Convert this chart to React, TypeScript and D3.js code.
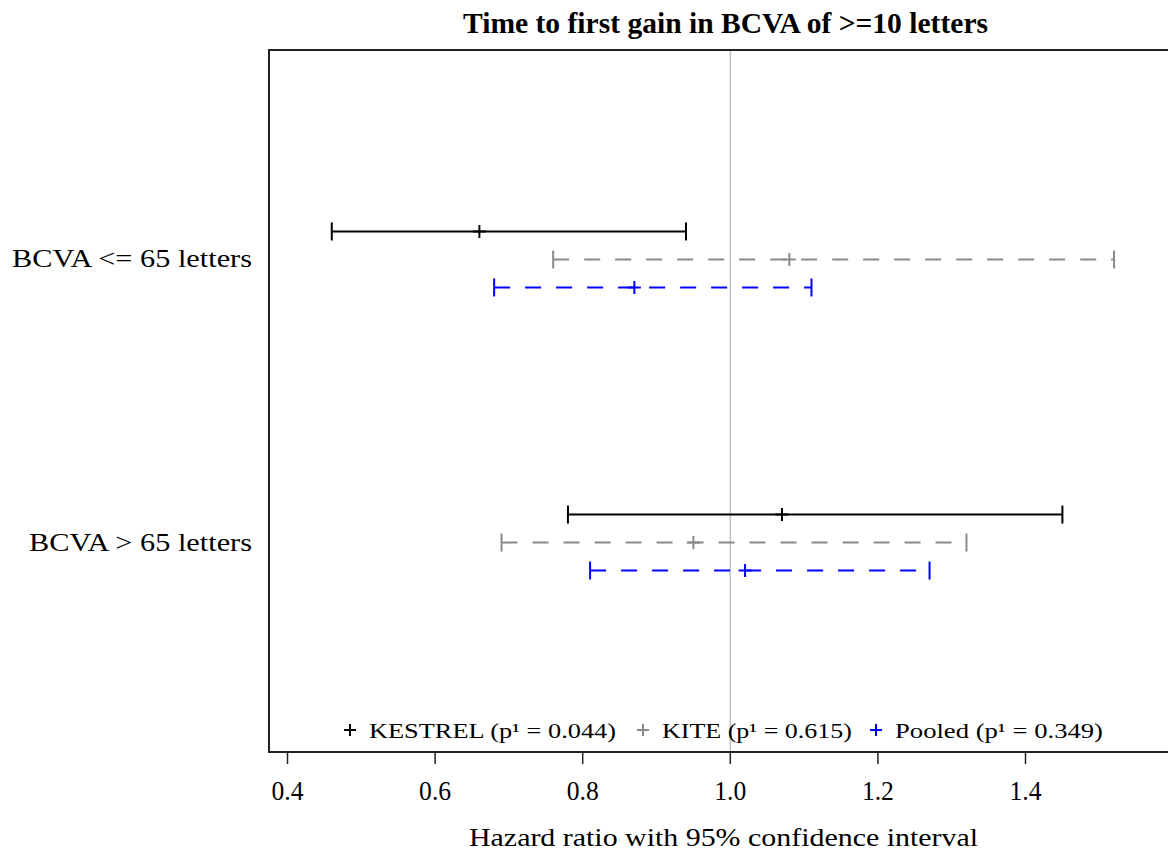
import React from "react";
import * as d3 from "d3";

const categories = ["BCVA <= 65 letters", "BCVA > 65 letters"];
const seriesNames = ["KESTREL", "KITE", "Pooled"];
const seriesLegend = ["KESTREL (p\u00b9 = 0.044)", "KITE (p\u00b9 = 0.615)", "Pooled (p\u00b9 = 0.349)"];
const seriesColors = ["#000000", "#8a8a8a", "#0000ff"];
const seriesDashed = [false, true, true];
// estimates per category [<=65, >65]
const kestrelEst = [0.66, 1.07];
const kestrelLow = [0.46, 0.78];
const kestrelHigh = [0.94, 1.45];
const kiteEst = [1.08, 0.95];
const kiteLow = [0.76, 0.69];
const kiteHigh = [1.52, 1.32];
const pooledEst = [0.87, 1.02];
const pooledLow = [0.68, 0.81];
const pooledHigh = [1.11, 1.27];
const xTicks = [0.4, 0.6, 0.8, 1.0, 1.2, 1.4];

const title = "Time to first gain in BCVA of >=10 letters";
const xTitle = "Hazard ratio with 95% confidence interval";

export default function App() {
  const W = 1168, H = 851;
  const left = 269, top = 50, bottom = 752;
  const x = d3.scaleLinear().domain([0.4, 1.4]).range([287.5, 1025.5]);
  const y = d3.scalePoint<string>().domain(categories).range([top, bottom]).padding(0.74);
  const offsets = [-28, 0, 28];
  const est = [kestrelEst, kiteEst, pooledEst];
  const low = [kestrelLow, kiteLow, pooledLow];
  const high = [kestrelHigh, kiteHigh, pooledHigh];
  const font = "'Liberation Serif', 'Times New Roman', serif";
  const legendX = [350, 643, 876];
  const legendW = [247, 190, 208];
  const legendY = 730;

  const plus = (cx: number, cy: number, s: number) =>
    `M${cx - s / 2},${cy}H${cx + s / 2}M${cx},${cy - s / 2}V${cy + s / 2}`;

  return (
    <svg width={W} height={H} style={{ position: "absolute", left: 0, top: 0, background: "#fff" }}>
      <rect x={0} y={0} width={W} height={H} fill="#fff" />
      <text x={725.5} y={33} textAnchor="middle" fontFamily={font} fontWeight="bold" fontSize={29}
        textLength={525} lengthAdjust="spacingAndGlyphs">{title}</text>
      {/* reference line */}
      <line x1={x(1.0)} x2={x(1.0)} y1={top} y2={bottom} stroke="#c4c4c4" strokeWidth={1.5} />
      {/* frame */}
      <rect x={left} y={top} width={W + 20 - left} height={bottom - top} fill="none" stroke="#222" strokeWidth={2} />
      {/* x axis ticks */}
      {xTicks.map((t) => (
        <g key={t}>
          <line x1={x(t)} x2={x(t)} y1={bottom} y2={bottom + 12} stroke="#222" strokeWidth={1.5} />
          <text x={x(t)} y={800} textAnchor="middle" fontFamily={font} fontSize={27}
            textLength={32} lengthAdjust="spacingAndGlyphs">{t.toFixed(1)}</text>
        </g>
      ))}
      <text x={723.5} y={846} textAnchor="middle" fontFamily={font} fontSize={26}
        textLength={509} lengthAdjust="spacingAndGlyphs">{xTitle}</text>
      {/* row labels */}
      {categories.map((c, i) => (
        <text key={c} x={252} y={(y(c) as number) + 8} textAnchor="end" fontFamily={font} fontSize={26}
          textLength={i === 0 ? 240 : 223} lengthAdjust="spacingAndGlyphs">{c}</text>
      ))}
      {/* error bars */}
      {seriesNames.map((s, si) =>
        categories.map((c, ci) => {
          const cy = (y(c) as number) + offsets[si];
          const x0 = x(low[si][ci]);
          const x1 = x(high[si][ci]);
          const xe = x(est[si][ci]);
          const col = seriesColors[si];
          return (
            <g key={s + c}>
              <line x1={x0} x2={x1} y1={cy} y2={cy} stroke={col} strokeWidth={2}
                strokeDasharray={seriesDashed[si] ? "16,15" : undefined} />
              <line x1={x0} x2={x0} y1={cy - 9} y2={cy + 9} stroke={col} strokeWidth={2} />
              <line x1={x1} x2={x1} y1={cy - 9} y2={cy + 9} stroke={col} strokeWidth={2} />
              <path d={plus(xe, cy, 13)} stroke={col} strokeWidth={2} fill="none" />
            </g>
          );
        })
      )}
      {/* legend */}
      {seriesNames.map((s, si) => (
        <g key={"leg" + s}>
          <path d={plus(legendX[si], legendY, 12)} stroke={seriesColors[si]} strokeWidth={2} fill="none" />
          <text x={legendX[si] + 19} y={legendY + 8} fontFamily={font} fontSize={22}
            textLength={legendW[si]} lengthAdjust="spacingAndGlyphs">{seriesLegend[si]}</text>
        </g>
      ))}
    </svg>
  );
}
